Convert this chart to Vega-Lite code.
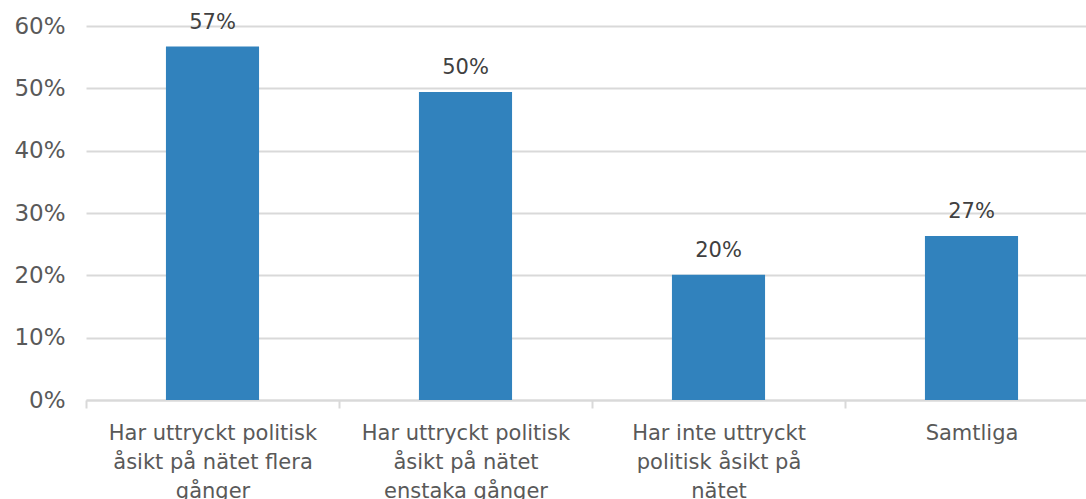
{
  "$schema": "https://vega.github.io/schema/vega-lite/v6.json",
  "width": 1000,
  "height": 374,
  "autosize": {"type": "none"},
  "padding": {"left": 86, "top": 26, "right": 0, "bottom": 99},
  "background": "white",
  "data": {"values": [
    {"grupp": "Har uttryckt politisk|åsikt på nätet flera|gånger", "andel": 0.567, "etikett": "57%"},
    {"grupp": "Har uttryckt politisk|åsikt på nätet|enstaka gånger", "andel": 0.494, "etikett": "50%"},
    {"grupp": "Har inte uttryckt|politisk åsikt på|nätet", "andel": 0.201, "etikett": "20%"},
    {"grupp": "Samtliga", "andel": 0.263, "etikett": "27%"}
  ]},
  "config": {
    "view": {"stroke": null},
    "font": "DejaVu Sans"
  },
  "encoding": {
    "x": {
      "field": "grupp", "type": "nominal", "sort": null,
      "scale": {"range": [0, 1012], "paddingInner": 0.632, "paddingOuter": 0.316},
      "axis": {
        "title": null, "labelAngle": 0, "labelExpr": "split(datum.label, '|')",
        "labelFontSize": 21, "labelColor": "#595959", "labelLineHeight": 29,
        "labelPadding": 14, "labelOverlap": false, "labelBaseline": "top",
        "domainColor": "#d9d9d9", "domainWidth": 2, "tickOffset": -126.5, "labelOffset": 126.5,
        "tickColor": "#d9d9d9", "tickWidth": 2, "tickSize": 8, "labelLimit": 0
      }
    },
    "y": {
      "field": "andel", "type": "quantitative",
      "scale": {"domain": [0, 0.6]},
      "axis": {
        "title": null, "format": ".0%", "values": [0, 0.1, 0.2, 0.3, 0.4, 0.5, 0.6],
        "labelFontSize": 23, "labelColor": "#595959", "labelPadding": 21, "labelOverlap": false,
        "ticks": false, "domain": false, "gridColor": "#d9d9d9", "gridWidth": 2
      }
    }
  },
  "layer": [
    {"mark": {"type": "bar", "color": "#3182bd"}},
    {"mark": {"type": "text", "dy": -18, "fontSize": 21, "color": "#404040", "baseline": "alphabetic"},
     "encoding": {"text": {"field": "etikett"}}}
  ]
}
